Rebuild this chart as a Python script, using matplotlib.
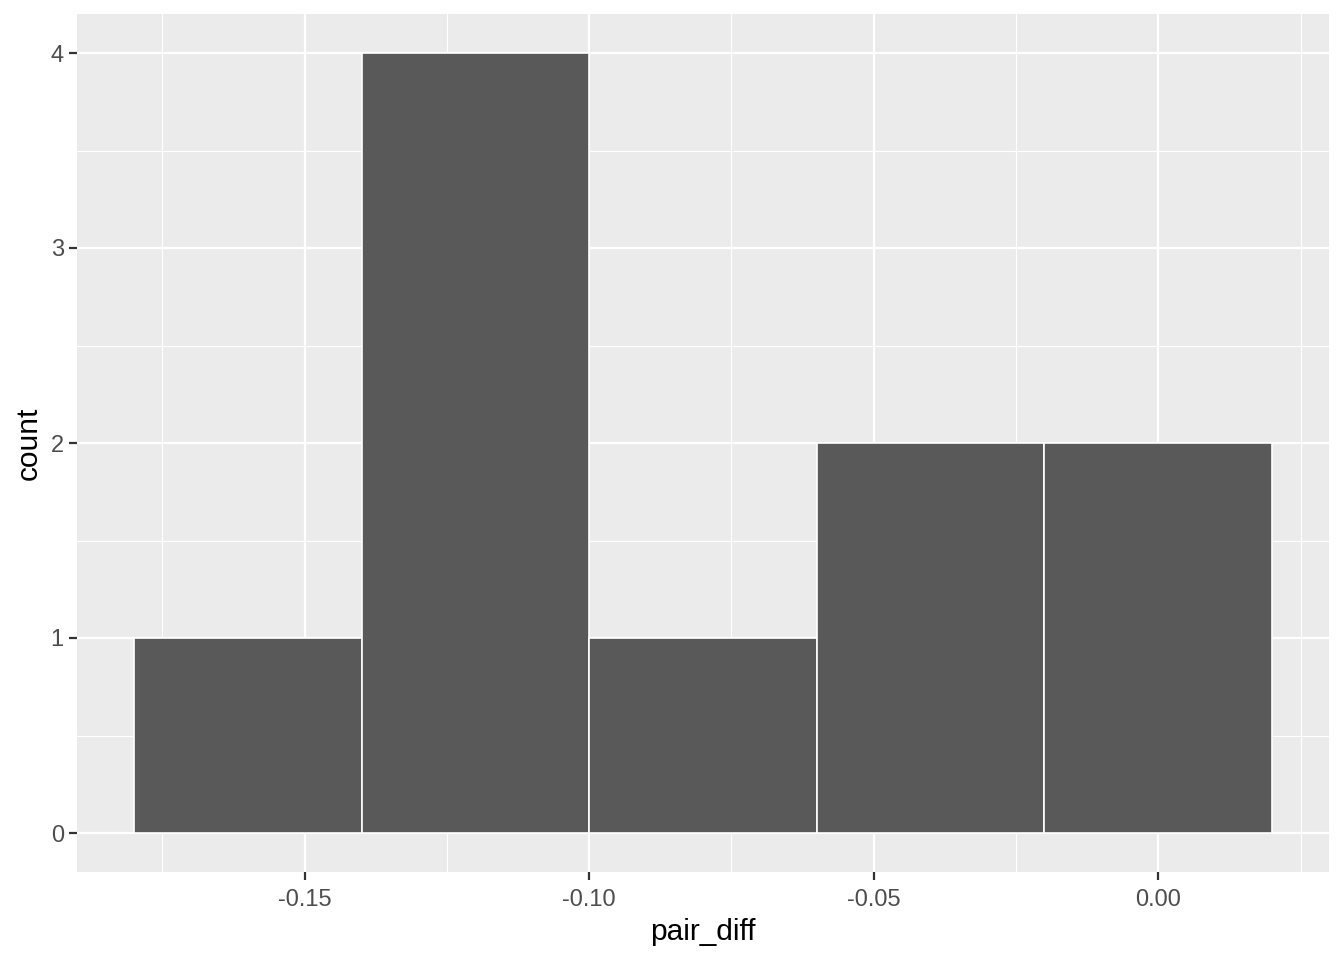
import numpy as np
import matplotlib
matplotlib.use("Agg")
import matplotlib.pyplot as plt
from matplotlib.ticker import FixedLocator

# Data
bin_edges = [-0.18, -0.14, -0.10, -0.06, -0.02, 0.02]
counts = [1, 4, 1, 2, 2]
x_ticks = [-0.15, -0.10, -0.05, 0.00]
x_tick_labels = ["-0.15", "-0.10", "-0.05", "0.00"]
y_ticks = [0, 1, 2, 3, 4]

plt.rcParams['font.family'] = ['Liberation Sans', 'DejaVu Sans']

W, H = 1344, 960
fig = plt.figure(figsize=(W / 100, H / 100), dpi=100)
left, right, top, bottom = 77, 1329, 14, 872
ax = fig.add_axes([left / W, (H - bottom) / H, (right - left) / W, (bottom - top) / H])

ax.set_facecolor('#EBEBEB')
edges = np.array(bin_edges)
ax.bar(edges[:-1], counts, width=np.diff(edges), align='edge',
       color='#595959', edgecolor='white', linewidth=1.2, zorder=3)

ax.set_xlim(-0.19, 0.03)
ax.set_ylim(-0.2, 4.2)

ax.xaxis.set_major_locator(FixedLocator(x_ticks))
ax.set_xticklabels(x_tick_labels)
ax.xaxis.set_minor_locator(FixedLocator([-0.175, -0.125, -0.075, -0.025, 0.025]))
ax.yaxis.set_major_locator(FixedLocator(y_ticks))
ax.yaxis.set_minor_locator(FixedLocator([0.5, 1.5, 2.5, 3.5]))

ax.grid(which='major', color='white', linewidth=1.6, zorder=1)
ax.grid(which='minor', color='white', linewidth=0.8, zorder=1)
ax.set_axisbelow(True)

for s in ax.spines.values():
    s.set_visible(False)

ax.tick_params(which='major', length=5.5, width=1.6, color='#333333',
               labelcolor='#4D4D4D', labelsize=17, pad=4)
ax.tick_params(axis='x', which='major', pad=7)
ax.tick_params(which='minor', length=0)

ax.set_xlabel('pair_diff', fontsize=21.5, color='black', labelpad=5)
ax.set_ylabel('count', fontsize=21.5, color='black', labelpad=6)

fig.savefig('out.png', dpi=100)
